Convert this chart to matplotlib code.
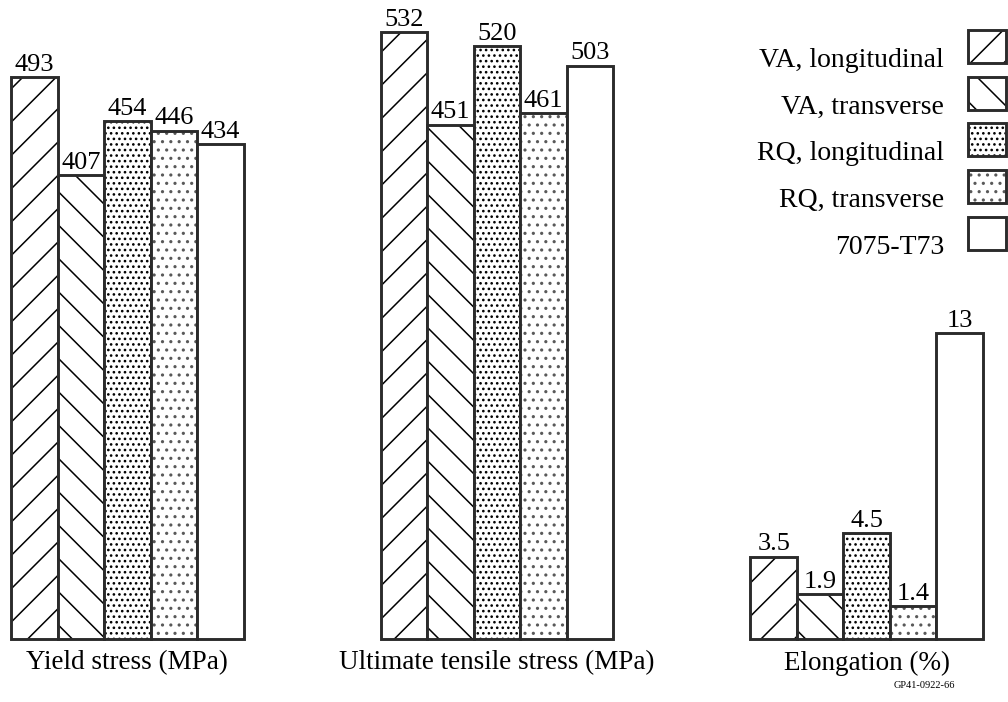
import matplotlib
matplotlib.use("Agg")
import matplotlib.pyplot as plt
from matplotlib.patches import Rectangle

plt.rcParams['font.family'] = ['Liberation Serif', 'DejaVu Serif']
plt.rcParams['hatch.linewidth'] = 1.1

# data
series = ["VA, longitudinal", "VA, transverse", "RQ, longitudinal",
          "RQ, transverse", "7075-T73"]
yield_stress = [493, 407, 454, 446, 434]
uts = [532, 451, 520, 461, 503]
elongation = [3.5, 1.9, 4.5, 1.4, 13]
elong_labels = ["3.5", "1.9", "4.5", "1.4", "13"]
group_names = ["Yield stress (MPa)", "Ultimate tensile stress (MPa)", "Elongation (%)"]

hatches = ['/', '\\', '...', '..', '']
hatch_cols = ['black', 'black', 'black', '0.35', 'black']
edge = '#2b2b2b'
group_gap = 7.95

fig = plt.figure(figsize=(10.08, 7.02), dpi=100)
ax = fig.add_axes([0, 0, 1, 1])
ax2 = fig.add_axes([0, 0, 1, 1])
for a in (ax, ax2):
    a.set_xlim(-0.237, 21.44)
    a.axis('off')
    a.patch.set_alpha(0)
ax.set_ylim(-55.3, 560.5)
ax2.set_ylim(-2.68, 27.19)


def draw_group(a, g, vals, labels):
    for i, v in enumerate(vals):
        x = g * group_gap + i + 0.5
        # hatch fill first, then the outline on top
        a.bar(x, v, width=1.0, color='white', edgecolor=hatch_cols[i],
              hatch=hatches[i], linewidth=0)
        a.bar(x, v, width=1.0, fill=False, edgecolor=edge, linewidth=2.1)
        a.annotate(labels[i], (x, v), xytext=(0, 1), textcoords='offset points',
                   ha='center', va='bottom', fontsize=19)


draw_group(ax, 0, yield_stress, [str(v) for v in yield_stress])
draw_group(ax, 1, uts, [str(v) for v in uts])
draw_group(ax2, 2, elongation, elong_labels)

for g, name in enumerate(group_names):
    fig.text((11 + g * group_gap * 46.5 + 2.5 * 46.5) / 1008, 1 - 663 / 702, name,
             ha='center', va='center', fontsize=19.5)

fig.text(955 / 1008, 1 - 686 / 702, "GP41-0922-66", ha='right', va='center',
         fontsize=7.5)

# legend on the right
W, H = 1008, 702
sq_bottoms = [63, 110, 156, 203, 250]
for i, name in enumerate(series):
    b = sq_bottoms[i]
    r = Rectangle((968 / W, 1 - b / H), 38 / W, 33 / H, transform=fig.transFigure,
                  facecolor='white', edgecolor=hatch_cols[i], hatch=hatches[i],
                  linewidth=0)
    fig.add_artist(r)
    r2 = Rectangle((968 / W, 1 - b / H), 38 / W, 33 / H, transform=fig.transFigure,
                   fill=False, edgecolor=edge, linewidth=2.1)
    fig.add_artist(r2)
    fig.text(944 / W, 1 - (b + 4) / H, name, ha='right', va='baseline', fontsize=20)

fig.savefig("out.png", dpi=100)
